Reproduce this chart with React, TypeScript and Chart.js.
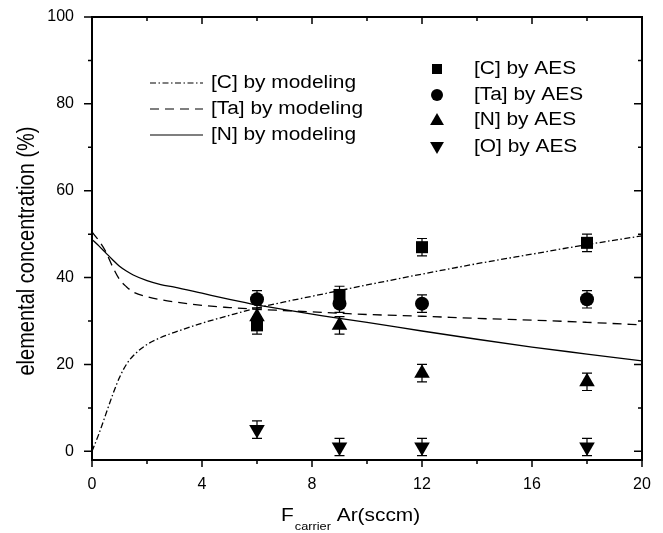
import React, { useEffect, useRef } from 'react';
import { Chart, registerables } from 'chart.js';

Chart.register(...registerables);

// ---- data ----
const MODEL_X = [0, 0.25, 0.5, 0.75, 1, 1.25, 1.5, 2, 2.5, 3, 4, 5, 6, 7, 8, 9, 10, 12, 14, 16, 18, 20];
const MODEL_C = [0, 4, 8.5, 13, 17, 20, 22, 24.6, 26.2, 27.4, 29.5, 31.3, 33, 34.4, 35.7, 37, 38.3, 40.8, 43.2, 45.4, 47.6, 49.6];
const MODEL_TA = [50.5, 48.5, 46, 42.5, 39.6, 37.9, 36.7, 35.6, 34.9, 34.4, 33.6, 33.1, 32.7, 32.4, 32.1, 31.8, 31.5, 31.1, 30.6, 30.2, 29.7, 29.1];
const MODEL_N = [48.8, 47.3, 45.7, 44.1, 42.6, 41.5, 40.6, 39.3, 38.4, 37.8, 36.4, 35, 33.7, 32.6, 31.6, 30.6, 29.7, 27.7, 25.8, 24, 22.4, 20.8];

const AES_X = [6, 9, 12, 18];
const AES_C = [29, 36, 47, 48];
const AES_TA = [35, 34, 34, 35];
const AES_N = [31, 29, 18, 16];
const AES_O = [5, 1, 1, 1];
const ERR_C = [2, 2, 2, 2];
const ERR_TA = [2, 2, 2, 2];
const ERR_N = [2, 2, 2, 2];
const ERR_O = [2, 2, 2, 2];

const X_TICKS = [0, 4, 8, 12, 16, 20];
const X_MINOR = [2, 6, 10, 14, 18];
const Y_TICKS = [0, 20, 40, 60, 80, 100];
const Y_MINOR = [10, 30, 50, 70, 90];

const MODEL_LABELS = ['[C] by modeling', '[Ta] by modeling', '[N] by modeling'];
const AES_LABELS = ['[C] by AES', '[Ta] by AES', '[N] by AES', '[O] by AES'];
const X_TITLE_MAIN = 'F';
const X_TITLE_SUB = 'carrier';
const X_TITLE_REST = ' Ar(sccm)';
const Y_TITLE = 'elemental concentration (%)';

const FONT = '"Liberation Sans", Arial, Helvetica, sans-serif';
const STRETCH = 1.16;
const DASH_C = [6, 2.5, 1.5, 2.5];
const DASH_TA = [9, 6];
const DASH_N: number[] = [];

function pts(xs: number[], ys: number[]) {
  return xs.map((x, i) => ({ x, y: ys[i] }));
}

function stretchedText(ctx: CanvasRenderingContext2D, text: string, x: number, y: number, font: string) {
  ctx.save();
  ctx.translate(x, y);
  ctx.scale(STRETCH, 1);
  ctx.font = font;
  ctx.fillText(text, 0, 0);
  const w = ctx.measureText(text).width * STRETCH;
  ctx.restore();
  return w;
}

function marker(ctx: CanvasRenderingContext2D, style: string, x: number, y: number, r: number) {
  ctx.beginPath();
  if (style === 'rect') {
    ctx.rect(x - r, y - r, 2 * r, 2 * r);
  } else if (style === 'circle') {
    ctx.arc(x, y, r, 0, Math.PI * 2);
  } else if (style === 'up') {
    ctx.moveTo(x, y - r);
    ctx.lineTo(x + r * 0.866, y + r * 0.5);
    ctx.lineTo(x - r * 0.866, y + r * 0.5);
    ctx.closePath();
  } else {
    ctx.moveTo(x, y + r);
    ctx.lineTo(x + r * 0.866, y - r * 0.5);
    ctx.lineTo(x - r * 0.866, y - r * 0.5);
    ctx.closePath();
  }
  ctx.fill();
}

const decorPlugin = {
  id: 'decor',
  beforeDatasetsDraw(chart: any) {
    const ctx: CanvasRenderingContext2D = chart.ctx;
    const xs = chart.scales.x;
    const ys = chart.scales.y;
    ctx.save();
    ctx.strokeStyle = '#000';
    ctx.lineWidth = 1.2;
    chart.data.datasets.forEach((ds: any) => {
      if (!ds.errors) return;
      ds.data.forEach((p: any, i: number) => {
        const e = ds.errors[i];
        const px = xs.getPixelForValue(p.x);
        const yTop = ys.getPixelForValue(p.y + e);
        const yBot = ys.getPixelForValue(p.y - e);
        ctx.beginPath();
        ctx.moveTo(px, yTop);
        ctx.lineTo(px, yBot);
        ctx.moveTo(px - 5, yTop);
        ctx.lineTo(px + 5, yTop);
        ctx.moveTo(px - 5, yBot);
        ctx.lineTo(px + 5, yBot);
        ctx.stroke();
      });
    });
    ctx.restore();
  },
  afterDraw(chart: any) {
    const ctx: CanvasRenderingContext2D = chart.ctx;
    const { left, right, top, bottom } = chart.chartArea;
    const xs = chart.scales.x;
    const ys = chart.scales.y;
    ctx.save();
    ctx.strokeStyle = '#000';
    ctx.fillStyle = '#000';
    // frame
    ctx.lineWidth = 2;
    ctx.strokeRect(left, top, right - left, bottom - top);
    // ticks
    ctx.lineWidth = 1.5;
    ctx.beginPath();
    X_TICKS.forEach((v) => {
      const p = xs.getPixelForValue(v);
      ctx.moveTo(p, bottom); ctx.lineTo(p, bottom + 7);
      ctx.moveTo(p, top); ctx.lineTo(p, top + 7);
    });
    X_MINOR.forEach((v) => {
      const p = xs.getPixelForValue(v);
      ctx.moveTo(p, bottom); ctx.lineTo(p, bottom + 4);
      ctx.moveTo(p, top); ctx.lineTo(p, top + 4);
    });
    Y_TICKS.forEach((v) => {
      const p = ys.getPixelForValue(v);
      ctx.moveTo(left, p); ctx.lineTo(left - 8, p);
      ctx.moveTo(right, p); ctx.lineTo(right - 8, p);
    });
    Y_MINOR.forEach((v) => {
      const p = ys.getPixelForValue(v);
      ctx.moveTo(left, p); ctx.lineTo(left - 4, p);
      ctx.moveTo(right, p); ctx.lineTo(right - 4, p);
    });
    ctx.stroke();

    // model legend
    const modelDashes = [DASH_C, DASH_TA, DASH_N];
    const modelRows = [83, 109, 135];
    ctx.textBaseline = 'middle';
    ctx.textAlign = 'left';
    MODEL_LABELS.forEach((lab, i) => {
      ctx.save();
      ctx.lineWidth = 1.2;
      ctx.setLineDash(modelDashes[i]);
      ctx.beginPath();
      ctx.moveTo(150, modelRows[i]);
      ctx.lineTo(203, modelRows[i]);
      ctx.stroke();
      ctx.restore();
      stretchedText(ctx, lab, 211, modelRows[i], `18px ${FONT}`);
    });
    // AES legend
    const aesStyles = ['rect', 'circle', 'up', 'down'];
    const aesSizes = [5, 6, 8, 8];
    const aesRows = [69, 95, 120, 147];
    AES_LABELS.forEach((lab, i) => {
      marker(ctx, aesStyles[i], 437, aesRows[i] + (aesStyles[i] === 'up' ? 1 : aesStyles[i] === 'down' ? -1 : 0), aesSizes[i]);
      stretchedText(ctx, lab, 474, aesRows[i], `18px ${FONT}`);
    });

    // y title
    ctx.save();
    ctx.translate(28, 251);
    ctx.scale(STRETCH, 1);
    ctx.rotate(-Math.PI / 2);
    ctx.font = `20px ${FONT}`;
    ctx.textAlign = 'center';
    ctx.textBaseline = 'middle';
    ctx.fillText(Y_TITLE, 0, 0);
    ctx.restore();

    // x title
    ctx.textAlign = 'left';
    ctx.textBaseline = 'alphabetic';
    let x = 281;
    x += stretchedText(ctx, X_TITLE_MAIN, x, 521, `18px ${FONT}`);
    x += 1;
    x += stretchedText(ctx, X_TITLE_SUB, x, 530, `11px ${FONT}`);
    stretchedText(ctx, X_TITLE_REST, x, 521, `18px ${FONT}`);

    ctx.restore();
  },
};

export default function App() {
  const ref = useRef<HTMLCanvasElement | null>(null);
  useEffect(() => {
    document.body.style.margin = '0';
    const canvas = ref.current;
    if (!canvas) return;
    const lineDs = (data: number[], dash: number[], label: string) => ({
      type: 'line' as const,
      label,
      data: pts(MODEL_X, data),
      borderColor: '#000',
      borderWidth: 1.3,
      borderDash: dash,
      pointRadius: 0,
      fill: false,
      showLine: true,
      cubicInterpolationMode: 'monotone' as const,
    });
    const aesDs = (data: number[], err: number[], style: string, r: number, rot: number, label: string) => ({
      type: 'scatter' as const,
      label,
      data: pts(AES_X, data),
      errors: err,
      pointStyle: style,
      pointRadius: r,
      pointRotation: rot,
      pointBackgroundColor: '#000',
      pointBorderColor: '#000',
      pointBorderWidth: 0,
      showLine: false,
    });
    const chart = new Chart(canvas, {
      type: 'scatter',
      data: {
        datasets: [
          lineDs(MODEL_C, DASH_C, MODEL_LABELS[0]),
          lineDs(MODEL_TA, DASH_TA, MODEL_LABELS[1]),
          lineDs(MODEL_N, DASH_N, MODEL_LABELS[2]),
          aesDs(AES_C, ERR_C, 'rect', 8.5, 0, AES_LABELS[0]),
          aesDs(AES_TA, ERR_TA, 'circle', 7, 0, AES_LABELS[1]),
          aesDs(AES_N, ERR_N, 'triangle', 9, 0, AES_LABELS[2]),
          aesDs(AES_O, ERR_O, 'triangle', 9, 180, AES_LABELS[3]),
        ] as any,
      },
      options: {
        animation: false,
        responsive: false,
        devicePixelRatio: 1,
        layout: { padding: { left: 0, top: 17, right: 21, bottom: 0 } },
        plugins: { legend: { display: false }, tooltip: { enabled: false } },
        scales: {
          x: {
            type: 'linear',
            min: 0,
            max: 20,
            grid: { display: false },
            border: { display: false },
            ticks: {
              color: '#000',
              font: { family: FONT, size: 16 },
              padding: 7,
              maxRotation: 0,
            },
            afterBuildTicks: (s: any) => { s.ticks = X_TICKS.map((v) => ({ value: v })); },
            afterFit: (s: any) => {
              s.height = 73;
              s.paddingLeft = 0; s.paddingRight = 0; s.paddingTop = 0; s.paddingBottom = 0;
            },
          },
          y: {
            type: 'linear',
            min: -2,
            max: 100,
            grid: { display: false },
            border: { display: false },
            ticks: {
              color: '#000',
              font: { family: FONT, size: 16 },
              padding: 10,
            },
            afterBuildTicks: (s: any) => { s.ticks = Y_TICKS.map((v) => ({ value: v })); },
            afterFit: (s: any) => {
              s.width = 92;
              s.paddingLeft = 0; s.paddingRight = 0; s.paddingTop = 0; s.paddingBottom = 0;
            },
          },
        },
      } as any,
      plugins: [decorPlugin],
    });
    return () => chart.destroy();
  }, []);
  return (
    <div style={{ position: 'absolute', left: 0, top: 0, width: 663, height: 533, background: '#fff' }}>
      <canvas ref={ref} width={663} height={533} />
    </div>
  );
}
